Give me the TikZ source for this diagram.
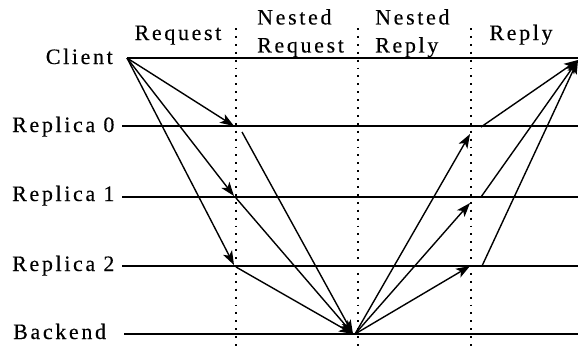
\documentclass[tikz,border=0pt]{standalone}
\usepackage{fontspec}
\setmainfont{Liberation Serif}[LetterSpace=12, FakeBold=0.3]
\usetikzlibrary{arrows.meta}

\tikzset{
  lane/.style={line width=1.7pt},
  phase/.style={line width=1.9pt, dash pattern=on 1.9pt off 6pt},
  hop/.style={line width=1.4pt},
  msg/.style={hop, -{Stealth[length=14pt,width=10pt,inset=3.5pt]}},
  who/.style={font=\fontsize{22}{28}\selectfont, inner sep=0pt},
  stage/.style={who, align=left}
}

\begin{document}
\begin{tikzpicture}[x=1pt,y=-1pt]
\useasboundingbox (0,0) rectangle (578,349);

\node[who, anchor=base east] (client) at (113,64) {Client};
\node[who, anchor=base west] (rep0) at (12,132) {Replica 0};
\node[who, anchor=base west] (rep1) at (12,201) {Replica 1};
\node[who, anchor=base west] (rep2) at (12,271) {Replica 2};
\node[who, anchor=base west] (backend) at (13,339) {Backend};

\node[who, anchor=base] (request) at (178,40) {Request};
\node[stage, anchor=north west] (nestreq) at (257,9) {Nested\\Request};
\node[stage, anchor=north west] (nestrep) at (375,9) {Nested\\Reply};
\node[who, anchor=base] (reply) at (521,40) {Reply};

\coordinate (cL) at (127,58);  \coordinate (cR) at (578,58);
\coordinate (r0L) at (122,126); \coordinate (r0R) at (578,126);
\coordinate (r1L) at (122,197); \coordinate (r1R) at (578,197);
\coordinate (r2L) at (122,266); \coordinate (r2R) at (578,266);
\coordinate (bL) at (124,334);  \coordinate (bR) at (578,334);

\foreach \x/\n in {236/a, 358/b, 471/c}{
  \coordinate (top\n) at (\x,28);
  \coordinate (bot\n) at (\x,349);
  \draw[phase] (top\n) -- (bot\n);
}

\draw[lane] (cL) -- (cR);
\draw[lane] (r0L) -- (r0R);
\draw[lane] (r1L) -- (r1R);
\draw[lane] (r2L) -- (r2R);
\draw[lane] (bL) -- (bR);

\coordinate (r0a) at (234,126);
\coordinate (r1a) at (234,196);
\coordinate (r2a) at (234,265);
\coordinate (r0b) at (242,132);
\coordinate (r1b) at (236,198);
\coordinate (r2b) at (236,267);
\coordinate (bkIn) at (353,334);
\coordinate (bkOut) at (355,334);
\coordinate (r0c) at (470,134);
\coordinate (r1c) at (470,203);
\coordinate (r2c) at (470,266);
\coordinate (r0d) at (481,127);
\coordinate (r1d) at (481,197);
\coordinate (r2d) at (482,266);
\coordinate (cIn) at (578,60);

\draw[msg] (cL) -- (r0a);
\draw[msg] (cL) -- (r1a);
\draw[msg] (cL) -- (r2a);

\draw[msg] (r0b) -- (bkIn);
\draw[msg] (r1b) -- (bkIn);
\draw[msg] (r2b) -- (bkIn);

\draw[msg] (bkOut) -- (r0c);
\draw[msg] (bkOut) -- (r1c);
\draw[msg] (bkOut) -- (r2c);

\draw[msg] (r0d) -- (cIn);
\draw[msg] (r1d) -- (cIn);
\draw[msg] (r2d) -- (cIn);
\end{tikzpicture}
\end{document}
